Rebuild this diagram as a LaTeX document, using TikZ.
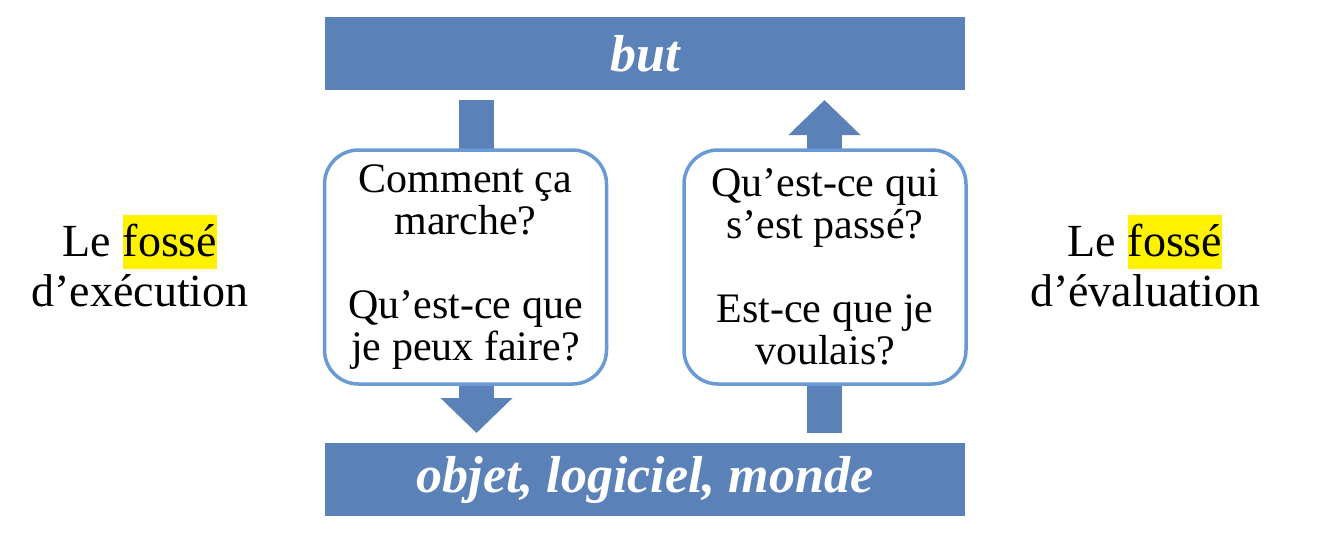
\documentclass[tikz,border=0pt]{standalone}
\usepackage{fontspec}
\setmainfont{Liberation Serif}
\usetikzlibrary{arrows.meta}
\definecolor{barblue}{RGB}{91,129,185}
\definecolor{boxblue}{RGB}{106,154,211}
\newcommand{\surligne}[1]{{\setlength{\fboxsep}{0pt}\colorbox{yellow}{\rule[-6pt]{0pt}{27pt}#1}}}

\begin{document}
\begin{tikzpicture}[x=0.5pt, y=-0.5pt,
    bar/.style={fill=barblue, text=white, minimum width=320pt, minimum height=36.5pt,
        inner sep=0pt, font=\fontsize{26}{30}\selectfont\bfseries\itshape},
    question/.style={draw=boxblue, line width=1.75pt, fill=white, rounded corners=17pt,
        minimum width=141pt, minimum height=117pt, inner sep=0pt, align=center,
        font=\fontsize{21}{21}\selectfont},
    gap label/.style={align=center, font=\fontsize{23}{25}\selectfont},
    flow/.style={draw=barblue, line width=17.5pt, -{Triangle[width=35pt, length=17.5pt]}}]
    \useasboundingbox (0,0) rectangle (1318,554);

    \node[bar] (but node) at (645,53.5) {but};
    \node[bar] (monde node) at (645,479.5) {objet, logiciel, monde};

    \coordinate (execution top) at (476.5,100);
    \coordinate (execution bottom) at (476.5,433);
    \coordinate (evaluation bottom) at (824.5,433);
    \coordinate (evaluation top) at (824.5,100);
    \draw[flow] (execution top) -- (execution bottom);
    \draw[flow] (evaluation bottom) -- (evaluation top);

    \node[question] (execution node) at (465.5,267)
        {Comment ça\\marche?\\[21pt]Qu’est-ce que\\je peux faire?};
    \node[question] (evaluation node) at (825,267)
        {Qu’est-ce qui\\s’est passé?\\[21pt]Est-ce que je\\voulais?};

    \node[gap label] (execution gap) at (140,261) {Le \surligne{fossé}\\d’exécution};
    \node[gap label] (evaluation gap) at (1145,261) {Le \surligne{fossé}\\d’évaluation};
\end{tikzpicture}
\end{document}
